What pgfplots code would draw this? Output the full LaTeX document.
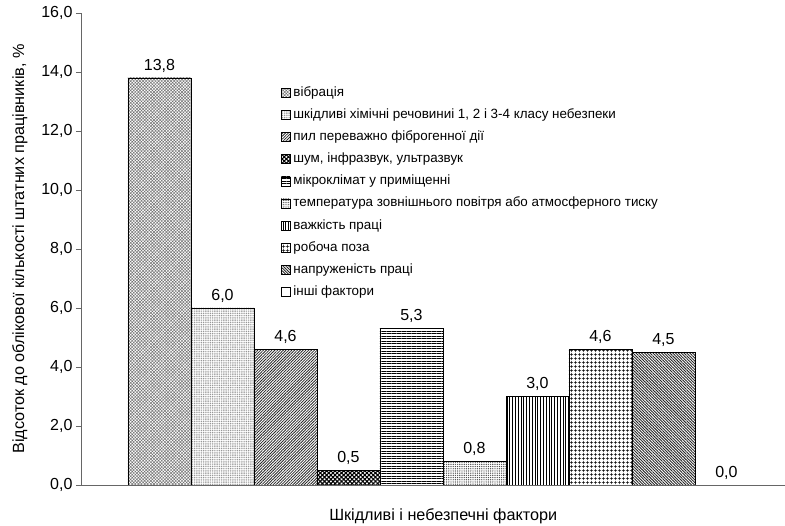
\documentclass[border=0pt]{standalone}
\usepackage{fontspec}
\setmainfont{Liberation Sans}
\usepackage{pgfplots}
\pgfplotsset{compat=1.18}
\usetikzlibrary{patterns,patterns.meta}
\begin{document}
\begin{tikzpicture}
\begin{axis}[
  scale only axis,
  width=703.3pt, height=472pt,
  at={(0,0)}, anchor=south west,
  xmin=-1.235, xmax=9.93,
  ymin=0, ymax=16,
  ytick={0,2,...,16},
  xtick=\empty,
  axis lines*=left,
  x axis line style={-, draw=black!60, line width=0.8pt},
  y axis line style={-, draw=black!60, line width=0.8pt},
  tick align=outside,
  major tick length=5.7pt,
  ytick style={draw=black!60, line width=0.8pt},
  /pgf/number format/.cd, fixed, fixed zerofill, precision=1, use comma, assume math mode=true,
  /pgfplots/.cd,
  yticklabel style={font=\fontsize{16}{18}\selectfont, text=black},
  ylabel={Відсоток до облікової кількості штатних працівників, \%},
  ylabel style={at={(axis description cs:-0.088,0.5)}, anchor=center, font=\fontsize{16.2}{18}\selectfont},
  xlabel={Шкідливі і небезпечні фактори},
  xlabel style={at={(axis description cs:0.514,-0.0657)}, anchor=center, font=\fontsize{16.2}{18}\selectfont},
  ybar, bar width=1,
  every axis plot/.append style={bar shift=0pt, draw=black, line width=0.7pt},
  nodes near coords,
  nodes near coords style={font=\fontsize{16}{18}\selectfont, text=black, anchor=south, yshift=2pt},
  legend cell align=left,
  legend image code/.code={\draw[#1, line width=0.5pt] (0pt,-4.5pt) rectangle (9pt,4.5pt);},
  legend style={at={(axis description cs:0.283,0.847)}, anchor=north west, draw=none, fill=none,
    font=\fontsize{13.4}{16}\selectfont, row sep=7.1pt, inner sep=0pt,
    nodes={inner sep=1pt, text height=10pt, text depth=3pt},
    /tikz/every odd column/.append style={column sep=2pt}},
]
\addplot[pattern={Hatch[angle=45,distance=2.2pt,line width=0.5pt]}, pattern color=black!55] coordinates {(0,13.8)};
\addlegendentry{вібрація}
\addplot[pattern={Dots[distance=1.8pt,radius=0.6pt]}, pattern color=black!45] coordinates {(1,6.0)};
\addlegendentry{шкідливі хімічні речовиниі 1, 2 і 3-4 класу небезпеки}
\addplot[pattern={Lines[angle=45,distance=2pt,line width=0.8pt]}, pattern color=black!85] coordinates {(2,4.6)};
\addlegendentry{пил переважно фіброгенної дії}
\addplot[pattern={Hatch[angle=45,distance=3pt,line width=1.1pt]}, pattern color=black] coordinates {(3,0.5)};
\addlegendentry{шум, інфразвук, ультразвук}
\addplot[pattern={Lines[angle=0,distance=2.5pt,line width=0.5pt]}, pattern color=black] coordinates {(4,5.3)};
\addlegendentry{мікроклімат у приміщенні}
\addplot[pattern={Dots[distance=2.2pt,radius=0.7pt]}, pattern color=black!70] coordinates {(5,0.8)};
\addlegendentry{температура зовнішнього повітря або атмосферного тиску}
\addplot[pattern={Lines[angle=90,distance=2.8pt,line width=0.5pt]}, pattern color=black] coordinates {(6,3.0)};
\addlegendentry{важкість праці}
\addplot[pattern={Hatch[angle=0,distance=4pt,line width=0.5pt]}, pattern color=black] coordinates {(7,4.6)};
\addlegendentry{робоча поза}
\addplot[pattern={Lines[angle=-45,distance=2pt,line width=0.9pt]}, pattern color=black!85] coordinates {(8,4.5)};
\addlegendentry{напруженість праці}
\addplot[fill=white] coordinates {(9,0.0)};
\addlegendentry{інші фактори}
\end{axis}
\pgfresetboundingbox
\path[use as bounding box] (-81.7pt,-41pt) rectangle (703.3pt,485pt);
\end{tikzpicture}
\end{document}
